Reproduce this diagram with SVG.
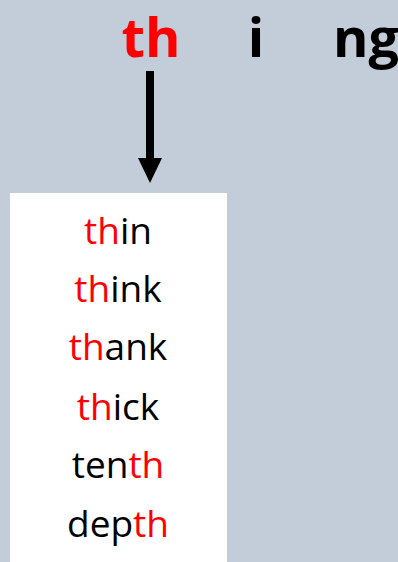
<svg xmlns="http://www.w3.org/2000/svg" width="398" height="562" viewBox="0 0 398 562">
<style>
.hd{font-family:"Open Sans","DejaVu Sans",sans-serif;font-weight:bold;font-size:54px;}
.w{font-family:"Open Sans","DejaVu Sans",sans-serif;font-size:37px;fill:#000;text-anchor:middle;}
.r{fill:#FF0000;}
</style>
<rect width="398" height="562" fill="#C3CDD9"/>
<g id="header">
<text class="hd r" x="151" y="57" text-anchor="middle">th</text>
<text class="hd" x="256" y="57" text-anchor="middle">i</text>
<text class="hd" x="333" y="57">ng</text>
</g>
<g id="connectors">
<line x1="150" y1="71" x2="150" y2="158" stroke="#000" stroke-width="8"/>
<path d="M138,158 L162,158 L150,183 Z" fill="#000"/>
</g>
<g id="list">
<rect x="10" y="193" width="217" height="369" fill="#FFFFFF"/>
<text class="w" x="118" y="244"><tspan class="r">th</tspan>in</text>
<text class="w" x="118" y="302"><tspan class="r">th</tspan>ink</text>
<text class="w" x="118" y="360"><tspan class="r">th</tspan>ank</text>
<text class="w" x="118" y="420"><tspan class="r">th</tspan>ick</text>
<text class="w" x="118" y="478">ten<tspan class="r">th</tspan></text>
<text class="w" x="118" y="537">dep<tspan class="r">th</tspan></text>
</g>
</svg>
